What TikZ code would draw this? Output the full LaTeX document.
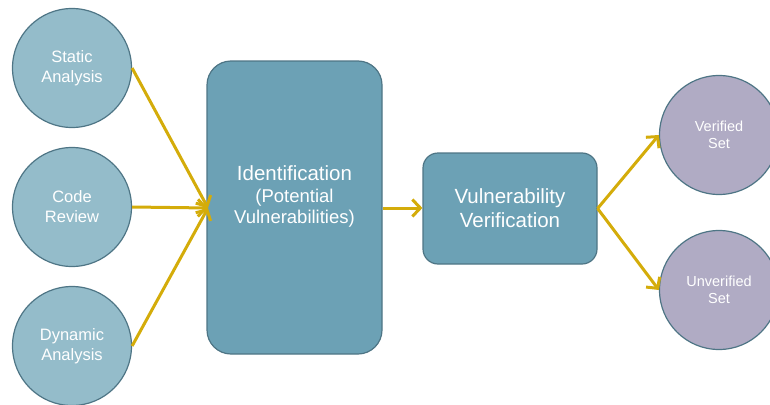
\documentclass[tikz,border=0pt]{standalone}
\usepackage{fontspec}
\setmainfont{Liberation Sans}
\usetikzlibrary{arrows.meta}
\definecolor{circA}{RGB}{148,188,202}
\definecolor{boxB}{RGB}{108,161,181}
\definecolor{purC}{RGB}{176,171,196}
\definecolor{edgeD}{RGB}{78,117,133}
\definecolor{arrY}{RGB}{212,172,10}
\tikzset{
  x=1pt,y=-1pt,
  src/.style={circle,draw=edgeD,line width=1.2pt,fill=circA,minimum size=119pt,inner sep=0pt,text=white,font=\fontsize{16.5}{20}\selectfont,align=center},
  res/.style={circle,draw=edgeD,line width=1.2pt,fill=purC,minimum size=119pt,inner sep=0pt,text=white,font=\fontsize{14.5}{16.5}\selectfont,align=center},
  bigbox/.style={draw=edgeD,line width=1.2pt,fill=boxB,rounded corners=24pt,inner sep=0pt,text=white,align=center},
  conn/.style={draw=arrY,line width=3pt,-{Straight Barb[length=8pt,width=17pt,line width=3pt]}}
}
\begin{document}
\begin{tikzpicture}
\useasboundingbox (0,0) rectangle (770,404);
\node[src] (sa) at (72,68) {Static\\Analysis};
\node[src] (cr) at (72,207) {Code\\Review};
\node[src] (da) at (72,346) {Dynamic\\Analysis};
\node[bigbox,minimum width=175pt,minimum height=293pt] (id) at (294.5,207.5) {};
\node[text=white,align=center,font=\fontsize{20.5}{24}\selectfont] (idt) at (294.5,173) {Identification};
\node[text=white,align=center,font=\fontsize{18.5}{21}\selectfont] (idt2) at (294.5,208) {(Potential\\Vulnerabilities)};
\node[bigbox,rounded corners=15pt,minimum width=174pt,minimum height=111pt,font=\fontsize{20.5}{24}\selectfont] (vv) at (510,208.5) {Vulnerability\\Verification};
\node[res] (vs) at (719,135) {Verified\\Set};
\node[res] (us) at (719,290) {Unverified\\Set};
\coordinate (in) at (208,208);
\draw[conn] (sa.east) -- (in);
\draw[conn] (cr.east) -- (in);
\draw[conn] (da.east) -- (in);
\draw[conn] (id.east |- in) -- (vv.west |- in);
\draw[conn] (vv.east) -- (vs.west);
\draw[conn] (vv.east) -- (us.west);
\end{tikzpicture}
\end{document}
